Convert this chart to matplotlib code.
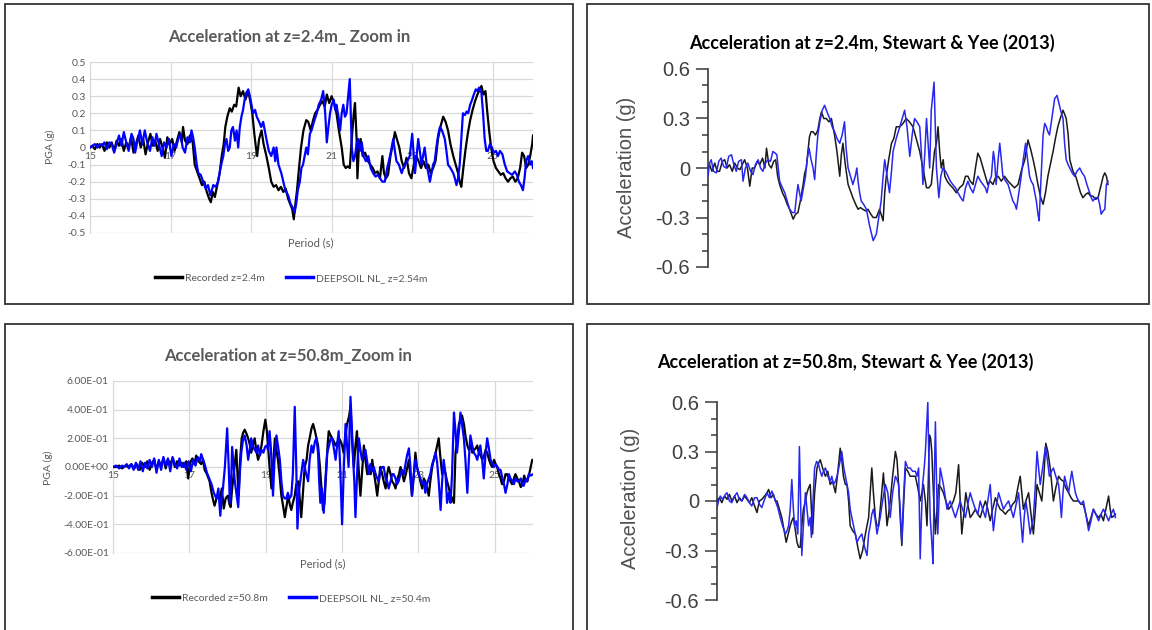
import matplotlib
matplotlib.use("Agg")
import matplotlib.pyplot as plt
import numpy as np
from matplotlib.patches import Rectangle
from matplotlib.ticker import FixedLocator, FuncFormatter, MultipleLocator

# (time s, acceleration g)
tl_rec = [(15.00, 0.00), (15.06, 0.01), (15.12, -0.01), (15.18, 0.02), (15.24, 0.00), (15.30, 0.02), (15.36, -0.02), (15.42, 0.03), (15.48, 0.00), (15.54, 0.03),
          (15.60, -0.02), (15.66, 0.04), (15.72, 0.01), (15.78, 0.05), (15.84, -0.02), (15.90, 0.03), (15.96, 0.00), (16.02, 0.06), (16.08, -0.03), (16.14, 0.02),
          (16.20, 0.07), (16.26, 0.00), (16.32, 0.05), (16.38, -0.04), (16.44, 0.03), (16.50, 0.08), (16.56, 0.01), (16.62, 0.04), (16.68, -0.02), (16.74, 0.05),
          (16.80, 0.00), (16.86, -0.06), (16.92, 0.06), (16.98, 0.02), (17.04, 0.05), (17.10, -0.02), (17.16, 0.04), (17.22, 0.09), (17.28, 0.03), (17.31, 0.12),
          (17.36, 0.04), (17.42, 0.02), (17.48, 0.07), (17.55, 0.03), (17.60, -0.10), (17.66, -0.14), (17.72, -0.18), (17.78, -0.22), (17.84, -0.20), (17.90, -0.26),
          (17.96, -0.30), (18.00, -0.32), (18.05, -0.26), (18.10, -0.29), (18.16, -0.22), (18.22, -0.15), (18.27, -0.05), (18.32, 0.02), (18.36, 0.12), (18.41, 0.18),
          (18.47, 0.23), (18.52, 0.21), (18.58, 0.25), (18.63, 0.24), (18.69, 0.35), (18.74, 0.30), (18.80, 0.33), (18.86, 0.28), (18.93, 0.33), (18.98, 0.27),
          (19.03, 0.20), (19.08, 0.08), (19.12, 0.00), (19.15, -0.05), (19.20, 0.05), (19.26, 0.10), (19.31, 0.02), (19.38, -0.05), (19.44, -0.12), (19.50, -0.20),
          (19.56, -0.23), (19.62, -0.22), (19.68, -0.25), (19.74, -0.23), (19.80, -0.26), (19.86, -0.24), (19.92, -0.30), (19.97, -0.33), (20.02, -0.36), (20.06, -0.42),
          (20.10, -0.33), (20.14, -0.25), (20.19, -0.12), (20.24, 0.00), (20.30, 0.10), (20.37, 0.16), (20.42, 0.15), (20.48, 0.10), (20.54, 0.16), (20.59, 0.20),
          (20.65, 0.22), (20.71, 0.25), (20.77, 0.27), (20.83, 0.24), (20.88, 0.31), (20.94, 0.26), (21.00, 0.30), (21.06, 0.26), (21.12, 0.20), (21.18, 0.10),
          (21.25, 0.00), (21.30, -0.10), (21.35, -0.12), (21.40, -0.11), (21.45, -0.12), (21.50, 0.05), (21.55, 0.20), (21.58, 0.26), (21.62, 0.05), (21.64, -0.18),
          (21.68, 0.02), (21.72, 0.05), (21.77, -0.05), (21.83, -0.03), (21.90, -0.08), (21.96, -0.10), (22.02, -0.12), (22.08, -0.15), (22.14, -0.14), (22.20, -0.18),
          (22.26, -0.05), (22.30, -0.15), (22.35, -0.18), (22.40, -0.16), (22.46, -0.05), (22.52, 0.02), (22.57, 0.09), (22.62, 0.05), (22.68, 0.00), (22.74, -0.08),
          (22.80, -0.12), (22.86, -0.06), (22.92, -0.15), (22.98, -0.18), (23.04, -0.10), (23.10, -0.05), (23.16, -0.08), (23.22, -0.12), (23.28, -0.08), (23.34, -0.12),
          (23.40, -0.10), (23.46, -0.15), (23.52, -0.12), (23.58, -0.08), (23.64, 0.05), (23.70, 0.12), (23.77, 0.18), (23.83, 0.15), (23.89, 0.10), (23.95, 0.02),
          (24.02, -0.05), (24.08, -0.10), (24.14, -0.15), (24.18, -0.20), (24.22, -0.23), (24.27, -0.12), (24.32, -0.02), (24.38, 0.08), (24.44, 0.16), (24.50, 0.22),
          (24.56, 0.27), (24.62, 0.31), (24.68, 0.34), (24.72, 0.36), (24.77, 0.31), (24.82, 0.33), (24.86, 0.22), (24.91, 0.10), (24.96, 0.00), (25.02, -0.08),
          (25.08, -0.12), (25.14, -0.14), (25.20, -0.16), (25.26, -0.15), (25.32, -0.18), (25.38, -0.20), (25.44, -0.18), (25.50, -0.17), (25.56, -0.20), (25.62, -0.18),
          (25.68, -0.12), (25.73, -0.03), (25.78, -0.05), (25.83, -0.12), (25.88, -0.10), (25.93, -0.05), (25.98, 0.02), (26.00, 0.07)]

tl_ds = [(15.00, 0.00), (15.06, 0.01), (15.12, 0.02), (15.18, 0.00), (15.24, 0.02), (15.30, 0.01), (15.36, 0.03), (15.42, -0.01), (15.48, 0.03), (15.54, 0.02),
         (15.60, -0.03), (15.66, 0.02), (15.72, 0.07), (15.78, 0.01), (15.84, 0.09), (15.90, 0.03), (15.96, -0.02), (16.03, 0.08), (16.08, 0.05), (16.12, -0.03),
         (16.18, 0.04), (16.24, 0.10), (16.30, 0.02), (16.36, 0.10), (16.42, 0.03), (16.49, -0.02), (16.55, 0.06), (16.60, 0.01), (16.65, 0.08), (16.71, 0.02),
         (16.78, -0.05), (16.84, 0.03), (16.90, 0.00), (16.96, 0.05), (17.02, -0.05), (17.08, 0.02), (17.14, 0.00), (17.19, 0.05), (17.25, 0.08), (17.30, 0.00),
         (17.36, -0.03), (17.42, 0.06), (17.48, 0.03), (17.52, 0.10), (17.56, 0.06), (17.60, 0.00), (17.65, -0.10), (17.69, -0.15), (17.75, -0.16), (17.81, -0.20),
         (17.87, -0.24), (17.93, -0.22), (17.99, -0.28), (18.06, -0.22), (18.12, -0.23), (18.18, -0.20), (18.24, -0.12), (18.31, -0.05), (18.35, 0.02), (18.39, 0.05),
         (18.43, -0.02), (18.47, 0.00), (18.51, 0.10), (18.55, 0.12), (18.60, 0.04), (18.64, 0.10), (18.68, 0.00), (18.72, 0.12), (18.76, 0.18), (18.80, 0.22),
         (18.84, 0.28), (18.88, 0.32), (18.93, 0.34), (18.97, 0.30), (19.01, 0.25), (19.05, 0.20), (19.10, 0.22), (19.14, 0.18), (19.20, 0.15), (19.25, 0.12),
         (19.30, 0.15), (19.34, 0.10), (19.38, 0.05), (19.44, -0.02), (19.50, -0.05), (19.56, 0.00), (19.60, -0.08), (19.63, 0.00), (19.68, -0.10), (19.75, -0.15),
         (19.80, -0.20), (19.85, -0.25), (19.92, -0.28), (19.98, -0.33), (20.03, -0.35), (20.08, -0.38), (20.12, -0.33), (20.16, -0.25), (20.21, -0.20), (20.25, -0.12),
         (20.29, -0.10), (20.33, -0.05), (20.37, 0.00), (20.41, -0.04), (20.46, 0.08), (20.50, 0.10), (20.56, 0.15), (20.63, 0.20), (20.68, 0.25), (20.74, 0.28),
         (20.79, 0.33), (20.84, 0.20), (20.88, 0.03), (20.92, 0.12), (20.96, 0.20), (21.00, 0.25), (21.05, 0.28), (21.09, 0.22), (21.12, 0.25), (21.17, 0.18),
         (21.21, 0.10), (21.25, 0.20), (21.29, 0.25), (21.33, 0.18), (21.37, 0.20), (21.41, 0.30), (21.45, 0.40), (21.48, 0.15), (21.50, 0.00), (21.54, -0.08),
         (21.58, -0.05), (21.62, 0.02), (21.66, 0.05), (21.70, -0.02), (21.75, 0.03), (21.79, -0.05), (21.85, -0.08), (21.91, -0.05), (21.97, -0.12), (22.03, -0.15),
         (22.09, -0.17), (22.15, -0.16), (22.20, -0.18), (22.26, -0.20), (22.32, -0.20), (22.38, -0.12), (22.45, -0.05), (22.49, 0.00), (22.53, 0.05), (22.57, -0.02),
         (22.61, -0.08), (22.67, -0.10), (22.74, -0.15), (22.78, -0.12), (22.82, -0.10), (22.88, -0.08), (22.94, -0.05), (23.00, 0.08), (23.04, -0.05), (23.07, -0.15),
         (23.11, -0.05), (23.15, 0.05), (23.19, -0.02), (23.23, -0.10), (23.27, -0.05), (23.31, 0.00), (23.36, -0.10), (23.40, -0.15), (23.44, -0.20), (23.48, -0.15),
         (23.52, -0.10), (23.56, -0.08), (23.60, 0.00), (23.65, 0.08), (23.69, 0.12), (23.74, 0.10), (23.81, 0.05), (23.85, -0.02), (23.89, -0.10), (23.95, -0.12),
         (24.02, -0.15), (24.06, -0.18), (24.10, -0.22), (24.14, -0.18), (24.18, -0.10), (24.22, 0.05), (24.26, 0.20), (24.31, 0.19), (24.35, 0.21), (24.39, 0.20),
         (24.44, 0.25), (24.49, 0.28), (24.53, 0.31), (24.58, 0.34), (24.62, 0.33), (24.66, 0.35), (24.72, 0.32), (24.76, 0.20), (24.80, 0.05), (24.84, -0.02),
         (24.88, -0.02), (24.93, 0.02), (24.98, 0.00), (25.03, -0.03), (25.08, -0.02), (25.13, -0.05), (25.18, -0.02), (25.24, -0.04), (25.30, -0.10), (25.36, -0.14),
         (25.42, -0.15), (25.48, -0.16), (25.55, -0.14), (25.60, -0.16), (25.65, -0.20), (25.70, -0.22), (25.75, -0.25), (25.79, -0.18), (25.83, -0.08), (25.88, -0.05),
         (25.93, -0.10), (25.97, -0.08), (26.00, -0.12)]

bl_rec = [(15.00, 0.00), (15.08, 0.00), (15.16, 0.01), (15.24, -0.01), (15.32, 0.01), (15.40, 0.00), (15.48, 0.02), (15.56, -0.01), (15.62, 0.02), (15.70, -0.02),
          (15.76, 0.03), (15.84, 0.00), (15.90, 0.04), (15.96, -0.02), (16.02, 0.03), (16.08, 0.05), (16.14, -0.02), (16.20, 0.04), (16.26, 0.01), (16.32, 0.06),
          (16.38, -0.01), (16.44, 0.05), (16.50, 0.02), (16.56, 0.06), (16.62, 0.00), (16.68, 0.04), (16.74, 0.01), (16.80, 0.03), (16.86, 0.00), (16.92, 0.04),
          (16.97, -0.08), (17.02, 0.03), (17.08, 0.06), (17.13, 0.02), (17.18, 0.08), (17.24, 0.04), (17.31, 0.02), (17.36, 0.05), (17.40, -0.02), (17.46, -0.05),
          (17.53, -0.10), (17.58, -0.18), (17.63, -0.24), (17.66, -0.27), (17.71, -0.22), (17.75, -0.20), (17.80, -0.22), (17.85, -0.15), (17.90, -0.29), (17.95, -0.22),
          (18.01, -0.20), (18.05, -0.26), (18.08, -0.28), (18.12, -0.15), (18.16, -0.05), (18.20, 0.05), (18.23, 0.12), (18.26, -0.05), (18.29, -0.20), (18.33, 0.05),
          (18.37, 0.20), (18.41, 0.24), (18.45, 0.26), (18.50, 0.23), (18.54, 0.20), (18.58, 0.16), (18.62, 0.10), (18.66, 0.15), (18.71, 0.20), (18.75, 0.12),
          (18.80, 0.05), (18.85, 0.10), (18.89, 0.15), (18.94, 0.25), (18.99, 0.33), (19.03, 0.25), (19.06, 0.15), (19.10, 0.00), (19.15, -0.15), (19.20, 0.05),
          (19.24, 0.20), (19.28, 0.12), (19.32, 0.05), (19.36, -0.05), (19.41, -0.20), (19.46, -0.28), (19.50, -0.35), (19.54, -0.28), (19.59, -0.20), (19.63, -0.26),
          (19.67, -0.30), (19.71, -0.25), (19.76, -0.20), (19.80, -0.12), (19.85, -0.10), (19.89, -0.22), (19.93, -0.35), (19.97, -0.20), (20.02, 0.00), (20.07, 0.05),
          (20.11, 0.15), (20.15, 0.20), (20.20, 0.27), (20.24, 0.30), (20.29, 0.25), (20.33, 0.20), (20.37, 0.15), (20.42, 0.00), (20.46, -0.15), (20.50, -0.30),
          (20.54, -0.25), (20.58, -0.05), (20.62, 0.15), (20.65, 0.25), (20.70, 0.22), (20.74, 0.20), (20.78, 0.18), (20.83, 0.15), (20.87, 0.17), (20.92, 0.20),
          (20.96, 0.18), (21.00, 0.15), (21.04, 0.10), (21.08, 0.20), (21.13, 0.30), (21.18, 0.35), (21.22, 0.42), (21.26, 0.20), (21.31, 0.00), (21.35, 0.15),
          (21.39, 0.25), (21.43, 0.00), (21.48, -0.20), (21.52, -0.05), (21.57, 0.15), (21.61, 0.05), (21.66, -0.05), (21.70, 0.00), (21.75, -0.05), (21.79, 0.05),
          (21.84, -0.05), (21.88, -0.12), (21.92, -0.20), (21.96, -0.10), (22.00, 0.00), (22.05, -0.05), (22.09, -0.10), (22.14, -0.15), (22.18, -0.05), (22.22, 0.00),
          (22.27, -0.05), (22.31, -0.10), (22.36, -0.12), (22.40, -0.15), (22.45, -0.08), (22.49, -0.05), (22.53, 0.00), (22.58, -0.05), (22.62, -0.10), (22.67, -0.05),
          (22.71, 0.00), (22.75, 0.05), (22.79, -0.08), (22.83, -0.20), (22.88, -0.05), (22.92, 0.10), (22.96, 0.00), (23.01, -0.05), (23.05, -0.10), (23.10, -0.15),
          (23.14, -0.08), (23.18, -0.10), (23.23, -0.15), (23.27, -0.20), (23.31, -0.10), (23.36, 0.00), (23.40, 0.05), (23.45, 0.10), (23.49, 0.15), (23.53, 0.20),
          (23.57, 0.08), (23.62, -0.05), (23.66, 0.00), (23.71, -0.05), (23.75, -0.10), (23.80, -0.15), (23.84, -0.20), (23.89, -0.22), (23.93, -0.25), (23.97, 0.10),
          (24.02, 0.20), (24.06, 0.30), (24.10, 0.33), (24.14, 0.36), (24.19, 0.30), (24.23, 0.22), (24.28, 0.15), (24.32, 0.12), (24.37, 0.15), (24.41, 0.10),
          (24.46, 0.12), (24.50, 0.13), (24.54, 0.15), (24.58, 0.10), (24.63, 0.08), (24.67, 0.05), (24.72, 0.08), (24.76, 0.12), (24.80, 0.10), (24.85, 0.05),
          (24.89, 0.02), (24.93, 0.00), (24.98, 0.05), (25.02, 0.02), (25.06, 0.00), (25.11, -0.05), (25.15, -0.08), (25.19, -0.12), (25.24, -0.10), (25.28, -0.05),
          (25.32, -0.05), (25.37, -0.08), (25.41, -0.10), (25.45, -0.12), (25.50, -0.08), (25.54, -0.05), (25.59, -0.08), (25.63, -0.10), (25.68, -0.14), (25.72, -0.12),
          (25.77, -0.06), (25.81, -0.10), (25.85, -0.10), (25.90, -0.05), (25.94, 0.00), (25.98, 0.05), (26.00, 0.05)]

bl_ds = [(15.00, 0.00), (15.08, 0.01), (15.16, -0.01), (15.24, 0.01), (15.30, 0.00), (15.36, 0.02), (15.42, -0.01), (15.48, 0.02), (15.54, -0.02), (15.60, 0.03),
         (15.66, -0.02), (15.72, 0.04), (15.78, -0.03), (15.84, 0.03), (15.90, -0.01), (15.96, 0.05), (16.02, 0.00), (16.08, 0.06), (16.14, -0.04), (16.20, 0.05),
         (16.26, -0.02), (16.32, 0.07), (16.38, 0.01), (16.44, 0.06), (16.50, -0.03), (16.56, 0.07), (16.62, 0.02), (16.68, -0.01), (16.74, 0.06), (16.80, 0.00),
         (16.86, 0.03), (16.92, -0.02), (16.98, 0.04), (17.04, -0.03), (17.10, 0.05), (17.16, 0.01), (17.22, 0.07), (17.28, 0.04), (17.31, 0.09), (17.36, 0.05),
         (17.40, 0.02), (17.46, -0.04), (17.52, -0.08), (17.58, -0.12), (17.64, -0.18), (17.71, -0.22), (17.76, -0.15), (17.81, -0.34), (17.85, -0.20), (17.88, -0.15),
         (17.93, 0.00), (17.99, 0.27), (18.03, 0.00), (18.06, -0.25), (18.10, -0.05), (18.12, 0.14), (18.16, 0.00), (18.19, -0.10), (18.24, -0.20), (18.28, -0.28),
         (18.32, -0.05), (18.36, 0.10), (18.40, 0.18), (18.45, 0.22), (18.50, 0.15), (18.54, 0.05), (18.58, 0.12), (18.62, 0.20), (18.66, 0.15), (18.71, 0.12),
         (18.76, 0.10), (18.80, 0.15), (18.85, 0.08), (18.89, 0.12), (18.94, 0.10), (18.98, 0.14), (19.02, 0.15), (19.06, 0.12), (19.10, 0.25), (19.13, 0.15),
         (19.16, 0.00), (19.19, -0.20), (19.23, 0.05), (19.28, 0.22), (19.32, 0.15), (19.37, 0.05), (19.41, -0.10), (19.45, -0.20), (19.50, -0.22), (19.54, -0.22),
         (19.58, -0.18), (19.62, -0.22), (19.67, -0.20), (19.71, -0.05), (19.76, 0.42), (19.80, 0.00), (19.83, -0.43), (19.88, -0.15), (19.93, -0.05), (19.98, 0.05),
         (20.02, 0.00), (20.06, -0.05), (20.11, -0.10), (20.15, 0.05), (20.20, 0.15), (20.24, 0.10), (20.29, 0.18), (20.33, 0.20), (20.37, 0.10), (20.40, -0.10),
         (20.43, -0.25), (20.47, -0.15), (20.52, -0.32), (20.56, -0.10), (20.61, 0.10), (20.66, 0.15), (20.70, 0.20), (20.74, 0.20), (20.79, 0.12), (20.83, 0.05),
         (20.87, 0.15), (20.91, 0.25), (20.95, 0.00), (21.00, -0.40), (21.04, -0.05), (21.09, 0.30), (21.13, 0.15), (21.17, 0.00), (21.22, 0.49), (21.26, 0.25),
         (21.28, 0.10), (21.32, -0.10), (21.35, -0.35), (21.40, 0.00), (21.44, 0.20), (21.48, 0.12), (21.52, 0.05), (21.57, 0.08), (21.61, 0.12), (21.65, 0.05),
         (21.70, -0.05), (21.74, 0.02), (21.79, -0.03), (21.83, 0.00), (21.88, -0.05), (21.92, -0.08), (21.96, -0.10), (22.01, -0.02), (22.05, 0.00), (22.09, 0.00),
         (22.14, -0.08), (22.18, -0.10), (22.22, -0.15), (22.27, -0.10), (22.31, -0.05), (22.35, -0.05), (22.40, -0.08), (22.44, -0.12), (22.48, -0.10), (22.53, -0.05),
         (22.57, -0.02), (22.62, -0.05), (22.66, 0.02), (22.70, 0.08), (22.75, 0.13), (22.79, 0.00), (22.83, -0.20), (22.88, -0.05), (22.92, 0.05), (22.96, 0.00),
         (23.01, -0.05), (23.05, -0.08), (23.10, -0.12), (23.14, -0.10), (23.18, -0.18), (23.22, -0.12), (23.27, -0.08), (23.31, -0.05), (23.36, 0.02), (23.40, 0.05),
         (23.45, 0.10), (23.49, 0.03), (23.53, -0.10), (23.58, -0.30), (23.62, -0.10), (23.66, 0.05), (23.71, -0.05), (23.75, -0.25), (23.80, -0.18), (23.84, -0.25),
         (23.88, -0.05), (23.93, 0.38), (23.97, 0.25), (24.01, 0.10), (24.06, 0.25), (24.10, 0.38), (24.14, 0.30), (24.19, 0.20), (24.23, 0.05), (24.28, -0.18),
         (24.32, 0.05), (24.36, 0.22), (24.41, 0.15), (24.45, 0.10), (24.50, 0.08), (24.54, 0.05), (24.58, 0.10), (24.62, 0.15), (24.67, 0.05), (24.71, -0.08),
         (24.76, 0.10), (24.80, 0.20), (24.85, 0.12), (24.89, 0.05), (24.94, 0.02), (24.98, 0.00), (25.02, 0.02), (25.07, 0.00), (25.11, -0.02), (25.15, -0.02),
         (25.20, -0.08), (25.24, -0.12), (25.28, -0.18), (25.33, -0.12), (25.37, -0.05), (25.41, -0.08), (25.46, -0.10), (25.50, -0.12), (25.54, -0.08), (25.59, -0.10),
         (25.63, -0.10), (25.68, -0.08), (25.72, -0.13), (25.76, -0.13), (25.81, -0.08), (25.85, -0.10), (25.89, -0.05), (25.94, -0.06), (26.00, -0.05)]

tr_rec = [(15.81, 0.00), (15.85, 0.02), (15.91, -0.02), (15.98, 0.03), (16.04, -0.02), (16.10, -0.02), (16.17, 0.04), (16.23, 0.05), (16.29, 0.00), (16.35, 0.02),
          (16.42, -0.02), (16.48, 0.03), (16.55, 0.00), (16.61, -0.01), (16.67, 0.02), (16.73, 0.05), (16.80, 0.00), (16.86, -0.11), (16.92, 0.00), (16.98, 0.00),
          (17.05, 0.04), (17.11, 0.02), (17.18, 0.06), (17.24, 0.00), (17.28, 0.12), (17.34, 0.02), (17.40, 0.00), (17.46, 0.04), (17.51, 0.05), (17.56, -0.05),
          (17.61, -0.10), (17.68, -0.15), (17.74, -0.18), (17.80, -0.22), (17.86, -0.25), (17.92, -0.29), (17.95, -0.31), (18.01, -0.28), (18.07, -0.27), (18.13, -0.20),
          (18.20, -0.10), (18.24, -0.03), (18.28, 0.00), (18.32, 0.10), (18.36, 0.19), (18.40, 0.22), (18.45, 0.22), (18.51, 0.20), (18.57, 0.23), (18.62, 0.30),
          (18.66, 0.34), (18.72, 0.30), (18.78, 0.30), (18.85, 0.28), (18.91, 0.30), (18.95, 0.25), (18.99, 0.20), (19.05, 0.10), (19.12, -0.05), (19.16, 0.08),
          (19.20, 0.15), (19.26, 0.02), (19.33, -0.10), (19.39, -0.14), (19.45, -0.18), (19.52, -0.22), (19.58, -0.25), (19.64, -0.24), (19.70, -0.25), (19.77, -0.26),
          (19.83, -0.25), (19.90, -0.28), (19.96, -0.30), (20.04, -0.30), (20.12, -0.25), (20.21, -0.32), (20.25, -0.15), (20.29, -0.05), (20.35, 0.05), (20.42, 0.15),
          (20.48, 0.18), (20.54, 0.25), (20.63, 0.25), (20.71, 0.27), (20.79, 0.30), (20.87, 0.28), (20.96, 0.25), (21.04, 0.18), (21.13, 0.10), (21.21, 0.00),
          (21.30, -0.12), (21.36, -0.12), (21.42, -0.10), (21.46, 0.00), (21.50, 0.10), (21.55, 0.15), (21.59, 0.25), (21.63, 0.10), (21.67, 0.00), (21.72, 0.05),
          (21.76, -0.05), (21.82, -0.08), (21.88, -0.10), (21.96, -0.12), (22.05, -0.15), (22.13, -0.12), (22.22, -0.10), (22.28, -0.05), (22.34, -0.05), (22.40, -0.08),
          (22.47, -0.10), (22.53, 0.00), (22.59, 0.09), (22.65, 0.06), (22.72, 0.00), (22.78, -0.05), (22.84, -0.10), (22.90, -0.08), (22.97, -0.10), (23.03, -0.06),
          (23.10, -0.05), (23.18, -0.08), (23.26, -0.05), (23.35, -0.08), (23.43, -0.10), (23.51, -0.12), (23.60, -0.10), (23.68, -0.02), (23.77, 0.05), (23.85, 0.17),
          (23.91, 0.12), (23.98, 0.05), (24.04, -0.02), (24.10, -0.10), (24.17, -0.18), (24.23, -0.22), (24.29, -0.15), (24.35, -0.05), (24.42, 0.03), (24.48, 0.10),
          (24.54, 0.18), (24.60, 0.25), (24.66, 0.30), (24.73, 0.35), (24.78, 0.32), (24.81, 0.30), (24.86, 0.20), (24.90, 0.05), (24.98, -0.02), (25.05, -0.05),
          (25.11, -0.10), (25.17, -0.15), (25.23, -0.18), (25.30, -0.16), (25.36, -0.15), (25.42, -0.17), (25.48, -0.17), (25.55, -0.19), (25.61, -0.18), (25.65, -0.14),
          (25.69, -0.10), (25.74, -0.05), (25.78, -0.03), (25.82, -0.05), (25.86, -0.10)]

tr_ds = [(15.81, -0.05), (15.85, 0.03), (15.89, 0.05), (15.95, -0.02), (16.02, -0.03), (16.08, 0.04), (16.14, 0.06), (16.20, 0.01), (16.27, 0.00), (16.33, 0.07),
         (16.40, 0.08), (16.46, 0.02), (16.52, -0.02), (16.58, 0.04), (16.65, 0.05), (16.69, -0.08), (16.75, 0.00), (16.81, 0.03), (16.88, -0.02), (16.94, -0.04),
         (17.00, 0.02), (17.07, 0.05), (17.13, 0.00), (17.19, -0.02), (17.25, 0.03), (17.32, 0.05), (17.38, 0.04), (17.44, 0.10), (17.50, 0.09), (17.54, 0.08),
         (17.61, -0.08), (17.68, -0.12), (17.74, -0.15), (17.80, -0.20), (17.86, -0.25), (17.93, -0.27), (17.99, -0.27), (18.03, -0.18), (18.07, -0.10), (18.11, -0.15),
         (18.15, -0.20), (18.21, -0.12), (18.26, -0.05), (18.30, 0.05), (18.35, 0.12), (18.40, 0.05), (18.45, 0.00), (18.49, -0.07), (18.53, 0.08), (18.57, 0.20),
         (18.62, 0.28), (18.68, 0.35), (18.74, 0.38), (18.80, 0.34), (18.87, 0.30), (18.93, 0.25), (18.99, 0.22), (19.05, 0.18), (19.12, 0.15), (19.18, 0.20),
         (19.24, 0.28), (19.28, 0.12), (19.33, 0.00), (19.39, -0.05), (19.45, -0.10), (19.51, -0.05), (19.55, 0.00), (19.58, -0.08), (19.62, -0.15), (19.66, -0.20),
         (19.72, -0.22), (19.79, -0.25), (19.83, -0.30), (19.87, -0.35), (19.92, -0.40), (19.96, -0.44), (20.00, -0.42), (20.04, -0.40), (20.10, -0.30), (20.16, -0.20),
         (20.21, -0.05), (20.25, 0.05), (20.31, -0.05), (20.37, -0.15), (20.42, -0.02), (20.46, 0.10), (20.54, 0.18), (20.63, 0.25), (20.69, 0.30), (20.75, 0.35),
         (20.81, 0.25), (20.88, 0.07), (20.94, 0.20), (21.00, 0.30), (21.06, 0.28), (21.13, 0.25), (21.17, 0.10), (21.21, -0.10), (21.26, 0.10), (21.30, 0.30),
         (21.34, 0.15), (21.38, 0.00), (21.42, 0.35), (21.49, 0.52), (21.55, 0.00), (21.61, -0.18), (21.66, -0.05), (21.71, 0.00), (21.78, -0.02), (21.84, -0.05),
         (21.90, -0.08), (21.96, -0.10), (22.03, -0.12), (22.09, -0.15), (22.16, -0.18), (22.22, -0.20), (22.28, -0.12), (22.34, -0.08), (22.40, -0.12), (22.47, -0.15),
         (22.53, -0.10), (22.59, -0.05), (22.66, -0.08), (22.72, -0.10), (22.78, -0.12), (22.82, -0.15), (22.88, -0.08), (22.93, -0.05), (22.98, 0.10), (23.01, 0.05),
         (23.05, -0.10), (23.10, 0.05), (23.14, 0.15), (23.18, 0.05), (23.22, -0.05), (23.29, -0.08), (23.35, -0.10), (23.41, -0.15), (23.47, -0.20), (23.52, -0.22),
         (23.56, -0.25), (23.62, -0.15), (23.68, -0.05), (23.73, 0.05), (23.79, 0.15), (23.84, 0.05), (23.89, -0.05), (23.93, -0.08), (23.98, -0.10), (24.02, -0.15),
         (24.06, -0.20), (24.10, -0.28), (24.13, -0.32), (24.18, -0.05), (24.23, 0.20), (24.27, 0.27), (24.31, 0.25), (24.35, 0.22), (24.39, 0.20), (24.45, 0.30),
         (24.52, 0.42), (24.58, 0.44), (24.64, 0.38), (24.68, 0.34), (24.73, 0.30), (24.77, 0.15), (24.81, 0.05), (24.86, 0.02), (24.90, 0.00), (24.96, -0.03),
         (25.02, -0.05), (25.08, -0.02), (25.15, 0.00), (25.21, -0.03), (25.27, -0.05), (25.33, -0.10), (25.40, -0.15), (25.44, -0.18), (25.48, -0.20), (25.54, -0.18),
         (25.61, -0.18), (25.65, -0.22), (25.69, -0.28), (25.74, -0.26), (25.78, -0.25), (25.82, -0.10), (25.86, -0.08)]

br_rec = [(15.91, 0.00), (15.97, 0.02), (16.03, -0.01), (16.10, 0.03), (16.16, 0.01), (16.22, 0.04), (16.28, 0.00), (16.35, 0.03), (16.41, -0.01), (16.47, 0.02),
          (16.53, 0.00), (16.60, 0.03), (16.66, 0.01), (16.72, -0.01), (16.78, 0.02), (16.85, -0.03), (16.91, -0.07), (16.97, 0.00), (17.03, 0.01), (17.10, 0.03),
          (17.16, 0.05), (17.20, 0.07), (17.26, 0.02), (17.32, 0.04), (17.37, 0.00), (17.41, 0.00), (17.47, -0.05), (17.53, -0.10), (17.59, -0.18), (17.64, -0.25),
          (17.69, -0.20), (17.74, -0.15), (17.78, -0.12), (17.82, -0.10), (17.87, -0.18), (17.91, -0.25), (17.95, -0.28), (17.99, -0.28), (18.03, -0.15), (18.07, -0.05),
          (18.12, 0.00), (18.16, 0.05), (18.20, 0.08), (18.24, 0.10), (18.27, -0.05), (18.30, -0.20), (18.35, 0.05), (18.41, 0.20), (18.45, 0.23), (18.49, 0.25),
          (18.55, 0.20), (18.62, 0.15), (18.68, 0.18), (18.74, 0.10), (18.80, 0.12), (18.87, 0.05), (18.92, 0.15), (18.96, 0.25), (18.99, 0.32), (19.03, 0.25),
          (19.07, 0.15), (19.12, 0.10), (19.16, 0.10), (19.20, 0.00), (19.24, -0.15), (19.30, -0.18), (19.37, -0.20), (19.43, -0.28), (19.49, -0.35), (19.55, -0.30),
          (19.62, -0.20), (19.66, -0.15), (19.70, -0.10), (19.74, 0.05), (19.78, 0.20), (19.82, 0.05), (19.87, -0.10), (19.91, -0.15), (19.95, -0.15), (20.01, 0.00),
          (20.07, 0.17), (20.12, 0.00), (20.16, -0.15), (20.20, -0.08), (20.24, 0.00), (20.30, 0.15), (20.37, 0.30), (20.41, 0.25), (20.45, 0.10), (20.49, -0.10),
          (20.53, -0.27), (20.57, -0.05), (20.62, 0.20), (20.68, 0.18), (20.74, 0.15), (20.80, 0.15), (20.87, 0.15), (20.93, 0.08), (20.99, 0.00), (21.03, 0.05),
          (21.07, 0.10), (21.12, 0.00), (21.16, -0.15), (21.19, 0.10), (21.22, 0.40), (21.25, 0.38), (21.28, 0.30), (21.32, 0.05), (21.37, -0.20), (21.41, -0.05),
          (21.45, 0.10), (21.51, 0.08), (21.57, 0.05), (21.63, 0.00), (21.70, -0.05), (21.76, -0.03), (21.82, 0.00), (21.88, 0.05), (21.95, 0.22), (21.99, 0.00),
          (22.03, -0.20), (22.08, -0.08), (22.13, 0.05), (22.18, -0.02), (22.24, -0.10), (22.30, -0.08), (22.37, -0.05), (22.43, -0.08), (22.49, -0.10), (22.55, -0.05),
          (22.62, 0.00), (22.68, -0.05), (22.74, -0.12), (22.80, -0.05), (22.87, 0.02), (22.93, -0.02), (22.99, -0.05), (23.05, -0.06), (23.12, -0.08), (23.18, -0.06),
          (23.24, -0.05), (23.30, -0.02), (23.37, 0.00), (23.43, 0.08), (23.49, 0.15), (23.53, 0.05), (23.57, -0.05), (23.63, 0.00), (23.70, 0.05), (23.76, -0.08),
          (23.82, -0.20), (23.87, -0.05), (23.91, 0.10), (23.97, 0.05), (24.03, 0.00), (24.08, 0.15), (24.13, 0.35), (24.18, 0.30), (24.24, 0.20), (24.28, 0.10),
          (24.32, 0.00), (24.38, 0.08), (24.45, 0.15), (24.51, 0.13), (24.57, 0.12), (24.63, 0.08), (24.70, 0.05), (24.76, 0.02), (24.82, 0.00), (24.88, 0.00),
          (24.95, 0.00), (25.01, -0.02), (25.07, -0.02), (25.13, -0.08), (25.20, -0.15), (25.26, -0.10), (25.32, -0.05), (25.38, -0.08), (25.45, -0.10), (25.51, -0.08),
          (25.57, -0.12), (25.63, -0.05), (25.70, 0.03), (25.74, -0.05), (25.78, -0.10), (25.83, -0.09), (25.87, -0.08)]

br_ds = [(15.91, -0.04), (15.95, 0.00), (15.99, 0.03), (16.05, 0.01), (16.12, 0.04), (16.16, 0.05), (16.22, 0.00), (16.28, -0.01), (16.35, 0.03), (16.41, 0.05),
         (16.47, 0.01), (16.53, 0.00), (16.60, 0.04), (16.66, 0.02), (16.72, -0.01), (16.78, -0.03), (16.85, 0.02), (16.91, 0.02), (16.97, -0.02), (17.03, -0.04),
         (17.10, 0.01), (17.16, 0.05), (17.22, 0.02), (17.28, 0.06), (17.33, 0.03), (17.37, 0.00), (17.43, -0.04), (17.49, -0.10), (17.55, -0.15), (17.62, -0.20),
         (17.66, -0.18), (17.70, -0.15), (17.74, -0.05), (17.78, 0.13), (17.82, -0.05), (17.85, -0.15), (17.89, -0.12), (17.93, -0.20), (17.97, 0.33), (18.00, 0.00),
         (18.03, -0.33), (18.07, -0.15), (18.12, 0.05), (18.16, -0.05), (18.20, -0.15), (18.24, -0.10), (18.27, -0.22), (18.31, 0.00), (18.35, 0.20), (18.40, 0.24),
         (18.45, 0.22), (18.49, 0.18), (18.53, 0.15), (18.57, 0.18), (18.62, 0.20), (18.68, 0.15), (18.74, 0.12), (18.78, 0.15), (18.82, 0.10), (18.87, 0.12),
         (18.91, 0.15), (18.97, 0.22), (19.03, 0.30), (19.08, 0.20), (19.12, 0.15), (19.16, 0.10), (19.20, 0.05), (19.24, -0.05), (19.28, -0.10), (19.35, -0.18),
         (19.41, -0.25), (19.47, -0.22), (19.53, -0.20), (19.60, -0.28), (19.66, -0.33), (19.70, -0.20), (19.74, -0.15), (19.78, -0.08), (19.82, -0.05), (19.87, -0.12),
         (19.91, -0.20), (19.95, -0.15), (19.99, -0.10), (20.05, 0.00), (20.12, 0.10), (20.18, 0.05), (20.24, -0.10), (20.30, 0.05), (20.37, 0.15), (20.41, 0.13),
         (20.45, 0.10), (20.49, -0.05), (20.53, -0.25), (20.57, 0.00), (20.62, 0.24), (20.68, 0.20), (20.74, 0.20), (20.80, 0.18), (20.87, 0.18), (20.91, 0.15),
         (20.95, 0.20), (20.99, -0.35), (21.02, -0.10), (21.05, 0.10), (21.09, 0.20), (21.12, 0.30), (21.18, 0.60), (21.21, 0.20), (21.24, -0.10), (21.28, -0.25),
         (21.31, -0.38), (21.34, 0.10), (21.37, 0.48), (21.40, 0.10), (21.43, -0.20), (21.46, 0.00), (21.49, 0.20), (21.53, 0.15), (21.57, 0.10), (21.62, 0.02),
         (21.66, -0.05), (21.70, -0.02), (21.74, 0.00), (21.80, -0.05), (21.87, -0.10), (21.93, -0.05), (21.99, 0.00), (22.05, -0.05), (22.12, -0.10), (22.18, -0.02),
         (22.24, 0.05), (22.30, 0.00), (22.37, -0.05), (22.43, -0.08), (22.49, 0.00), (22.55, -0.05), (22.62, -0.10), (22.68, 0.00), (22.74, 0.10), (22.78, -0.05),
         (22.82, -0.18), (22.88, -0.05), (22.95, 0.05), (23.01, 0.00), (23.07, -0.05), (23.14, -0.02), (23.20, 0.00), (23.26, -0.05), (23.32, -0.10), (23.38, -0.03),
         (23.45, 0.05), (23.50, -0.10), (23.55, -0.25), (23.59, -0.10), (23.63, 0.00), (23.68, -0.08), (23.74, -0.20), (23.78, -0.15), (23.82, -0.10), (23.87, 0.10),
         (23.91, 0.30), (23.95, 0.20), (23.99, 0.10), (24.05, 0.20), (24.12, 0.33), (24.17, 0.25), (24.22, 0.15), (24.27, 0.18), (24.32, 0.20), (24.38, 0.15),
         (24.45, 0.10), (24.49, 0.00), (24.52, -0.10), (24.56, 0.05), (24.60, 0.15), (24.65, 0.10), (24.70, 0.05), (24.74, 0.12), (24.78, 0.18), (24.82, 0.12),
         (24.87, 0.05), (24.91, 0.02), (24.95, 0.00), (25.01, -0.02), (25.07, 0.00), (25.13, -0.08), (25.20, -0.18), (25.26, -0.12), (25.32, -0.05), (25.38, -0.08),
         (25.45, -0.12), (25.51, -0.08), (25.57, -0.05), (25.63, -0.08), (25.70, -0.12), (25.76, -0.08), (25.82, -0.05), (25.87, -0.10)]

left_xticks = [15, 17, 19, 21, 23, 25]
tl_yticks = [0.5, 0.4, 0.3, 0.2, 0.1, 0.0, -0.1, -0.2, -0.3, -0.4, -0.5]
bl_yticks = [0.6, 0.4, 0.2, 0.0, -0.2, -0.4, -0.6]
right_yticks = [0.6, 0.3, 0.0, -0.3, -0.6]

GRAY = "#595959"
GRID = "#d9d9d9"
LEFT_FONT = ["Lato", "DejaVu Sans"]
RIGHT_FONT = ["Liberation Sans", "DejaVu Sans"]

W, H = 1152, 630
fig = plt.figure(figsize=(W / 100, H / 100), dpi=100)


def box(px0, py0, px1, py1):
    fig.add_artist(Rectangle((px0 / W, 1 - py1 / H), (px1 - px0) / W, (py1 - py0) / H,
                             transform=fig.transFigure, fill=False, edgecolor="#333333", linewidth=1.3))


def px_axes(x0, y0, x1, y1):
    return fig.add_axes([x0 / W, 1 - y1 / H, (x1 - x0) / W, (y1 - y0) / H])


def excel_panel(ax, rec, ds, yticks, fmt, labels, legend_xy):
    t, a = np.array(rec).T
    ax.plot(t, a, color="black", lw=1.6, label=labels[0], zorder=3)
    t, a = np.array(ds).T
    ax.plot(t, a, color="#0000ff", lw=1.6, label=labels[1], zorder=4)
    ax.set_xlim(15, 26)
    ax.set_ylim(yticks[-1], yticks[0])
    ax.yaxis.set_major_locator(FixedLocator(yticks))
    ax.yaxis.set_major_formatter(FuncFormatter(fmt))
    ax.xaxis.set_major_locator(FixedLocator(left_xticks))
    ax.grid(True, color=GRID, lw=0.9, zorder=0)
    for s in ["top", "right"]:
        ax.spines[s].set_visible(False)
    ax.spines["left"].set_color(GRID)
    ax.spines["bottom"].set_position(("data", 0))
    ax.spines["bottom"].set_color(GRID)
    ax.tick_params(length=0, labelsize=7.5, labelcolor=GRAY, pad=3)
    for lab in ax.get_xticklabels() + ax.get_yticklabels():
        lab.set_family(LEFT_FONT)
    leg = ax.legend(loc="center", bbox_to_anchor=legend_xy, bbox_transform=fig.transFigure, ncol=2,
                    frameon=False, prop={"family": LEFT_FONT, "size": 7.5}, handlelength=2.6,
                    handletextpad=0.3, columnspacing=2.0)
    for line in leg.get_lines():
        line.set_linewidth(2.5)
    for txt in leg.get_texts():
        txt.set_color(GRAY)


def paper_panel(ax, rec, ds, xmax):
    t, a = np.array(rec).T
    ax.plot(t, a, color="#1a1a1a", lw=1.1, zorder=3)
    t, a = np.array(ds).T
    ax.plot(t, a, color="#2828f0", lw=1.1, zorder=4)
    ax.set_xlim(t[0], xmax)
    ax.set_ylim(-0.6, 0.6)
    ax.yaxis.set_major_locator(FixedLocator(right_yticks))
    ax.yaxis.set_minor_locator(MultipleLocator(0.1))
    ax.yaxis.set_major_formatter(FuncFormatter(lambda v, p: "0" if abs(v) < 1e-9 else f"{v:.1f}"))
    for s in ["top", "right", "bottom"]:
        ax.spines[s].set_visible(False)
    ax.spines["left"].set_color("#3a3a3a")
    ax.spines["left"].set_linewidth(1.2)
    ax.set_xticks([])
    ax.tick_params(axis="y", which="major", length=9, width=1.1, color="#3a3a3a", labelsize=14.5,
                   labelcolor="#404040", pad=4)
    ax.tick_params(axis="y", which="minor", length=4, width=1.1, color="#3a3a3a")
    for lab in ax.get_yticklabels():
        lab.set_family(RIGHT_FONT)


box(5, 4, 573, 304)
box(587, 4, 1149, 304)
box(5, 324, 573, 640)
box(587, 324, 1149, 640)

# top left: Excel style, z=2.4m
ax = px_axes(90, 62, 533, 233)
excel_panel(ax, tl_rec, tl_ds, tl_yticks, lambda v, p: "0" if abs(v) < 1e-9 else f"{v:g}",
            ["Recorded z=2.4m", "DEEPSOIL NL_ z=2.54m"], (291 / W, 1 - 278 / H))
fig.text(289 / W, 1 - 37 / H, "Acceleration at z=2.4m_ Zoom in", ha="center", va="center",
         fontsize=12, fontweight="bold", color=GRAY, family=LEFT_FONT)
fig.text(311 / W, 1 - 243 / H, "Period (s)", ha="center", va="center", fontsize=8, color=GRAY, family=LEFT_FONT)
fig.text(50 / W, 1 - 147 / H, "PGA (g)", ha="center", va="center", rotation=90, fontsize=7.5, color=GRAY,
         family=LEFT_FONT)

# bottom left: Excel style, z=50.8m
ax = px_axes(113, 381, 533, 553)
excel_panel(ax, bl_rec, bl_ds, bl_yticks, lambda v, p: f"{v:.2E}" if abs(v) > 1e-9 else "0.00E+00",
            ["Recorded z=50.8m", "DEEPSOIL NL_ z=50.4m"], (291 / W, 1 - 598 / H))
fig.text(288 / W, 1 - 356 / H, "Acceleration at z=50.8m_Zoom in", ha="center", va="center",
         fontsize=12, fontweight="bold", color=GRAY, family=LEFT_FONT)
fig.text(323 / W, 1 - 564 / H, "Period (s)", ha="center", va="center", fontsize=8, color=GRAY, family=LEFT_FONT)
fig.text(48 / W, 1 - 468 / H, "PGA (g)", ha="center", va="center", rotation=90, fontsize=7.5, color=GRAY,
         family=LEFT_FONT)

# top right: Stewart & Yee (2013), z=2.4m
ax = px_axes(708, 69, 1130, 267)
paper_panel(ax, tr_rec, tr_ds, 15.81 + 422 / 39.8)
fig.text(872 / W, 1 - 43 / H, "Acceleration at z=2.4m, Stewart & Yee (2013)", ha="center", va="center",
         fontsize=13, fontweight="bold", color="black", family=LEFT_FONT)
fig.text(626 / W, 1 - 167 / H, "Acceleration (g)", ha="center", va="center", rotation=90, fontsize=14.5,
         color="#505050", family=RIGHT_FONT)

# bottom right: Stewart & Yee (2013), z=50.8m
ax = px_axes(717, 402, 1130, 600)
paper_panel(ax, br_rec, br_ds, 15.91 + 413 / 40.0)
fig.text(845 / W, 1 - 362 / H, "Acceleration at z=50.8m, Stewart & Yee (2013)", ha="center", va="center",
         fontsize=13, fontweight="bold", color="black", family=LEFT_FONT)
fig.text(631 / W, 1 - 498 / H, "Acceleration (g)", ha="center", va="center", rotation=90, fontsize=14.5,
         color="#505050", family=RIGHT_FONT)

fig.savefig("out.png", dpi=100)
plt.close(fig)
